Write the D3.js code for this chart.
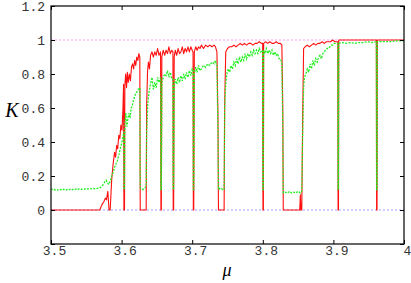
<!DOCTYPE html>
<html>
<head>
<meta charset="utf-8">
<style>
body { margin: 0; background: #fff; }
svg { display: block; background: #fff; }
.tick text { font-family: "Liberation Mono", monospace; font-size: 13px; fill: #333; }
</style>
</head>
<body>
<div id="chart"></div>
<script src="https://cdn.jsdelivr.net/npm/d3@7/dist/d3.min.js"></script>
<script>
// [mu, K] pairs
var redPts = [
  [3.500,0],[3.569,0],[3.572,0.03],[3.575,0.05],[3.577,0.07],[3.5785,0.06],[3.5805,0.11],[3.5822,0],[3.5838,0],
  [3.586,0.18],[3.588,0.27],[3.590,0.34],[3.5915,0.31],[3.593,0.38],[3.5945,0.36],[3.596,0.44],[3.5975,0.42],
  [3.599,0.5],[3.6005,0.47],[3.6018,0.58],[3.6028,0.74],[3.6033,0],[3.6041,0],[3.6046,0.73],[3.6058,0.8],
  [3.607,0.72],[3.6082,0.81],[3.6094,0.75],[3.611,0.8],[3.6125,0.76],[3.614,0.84],[3.6155,0.86],[3.617,0.83],
  [3.6185,0.88],[3.620,0.85],[3.6215,0.9],[3.623,0.88],[3.6245,0.92],[3.6258,0.9],[3.6264,0],[3.6348,0],
  [3.6355,0.62],[3.6368,0.82],[3.638,0.87],[3.6395,0.83],[3.641,0.91],[3.643,0.93],[3.645,0.9],[3.647,0.93],
  [3.649,0.91],[3.651,0.95],[3.653,0.91],[3.6552,0.93],[3.6557,0],[3.6563,0],[3.657,0.9],[3.659,0.94],
  [3.661,0.91],[3.663,0.94],[3.665,0.92],[3.667,0.96],[3.669,0.92],[3.671,0.94],[3.6727,0.93],[3.6731,0],
  [3.6737,0],[3.6745,0.9],[3.676,0.94],[3.678,0.91],[3.680,0.95],[3.682,0.92],[3.684,0.93],[3.686,0.96],
  [3.688,0.92],[3.690,0.95],[3.692,0.93],[3.694,0.96],[3.696,0.93],[3.698,0.96],[3.700,0.94],[3.7012,0.93],
  [3.7016,0],[3.7022,0],[3.703,0.93],[3.705,0.96],[3.707,0.94],[3.709,0.96],[3.711,0.95],[3.713,0.97],
  [3.716,0.95],[3.719,0.97],[3.722,0.96],[3.725,0.97],[3.728,0.96],[3.731,0.97],[3.733,0.96],[3.735,0.93],
  [3.7365,0.55],[3.7372,0],[3.7452,0],[3.746,0.62],[3.7475,0.93],[3.750,0.95],[3.753,0.96],[3.756,0.96],
  [3.759,0.97],[3.762,0.96],[3.765,0.97],[3.768,0.98],[3.771,0.97],[3.774,0.98],[3.777,0.97],[3.780,0.98],
  [3.783,0.98],[3.786,0.97],[3.789,0.98],[3.792,0.98],[3.795,0.99],[3.798,0.98],[3.7998,0.98],[3.8002,0],
  [3.8008,0],[3.8012,0.98],[3.804,0.99],[3.807,0.98],[3.810,0.99],[3.813,0.98],[3.816,0.98],[3.819,0.99],
  [3.822,0.98],[3.825,0.98],[3.827,0.97],[3.8283,0.6],[3.829,0],[3.8523,0],[3.8532,0.09],[3.854,0],[3.8552,0],
  [3.8565,0.55],[3.8578,0.95],[3.860,0.96],[3.863,0.97],[3.866,0.96],[3.869,0.97],[3.872,0.98],[3.875,0.97],
  [3.878,0.98],[3.881,0.98],[3.884,0.99],[3.887,0.98],[3.890,0.99],[3.893,0.99],[3.896,0.99],[3.899,1.0],
  [3.902,0.99],[3.9062,0.99],[3.9066,0],[3.9072,0],[3.9076,1.0],[3.92,1.0],[3.94,1.0],[3.9608,1.0],
  [3.9612,0],[3.9618,0],[3.9622,1.0],[3.98,1.0],[4.0,1.0]
];

var greenPts = [
  [3.500,0.125],[3.502,0.12],[3.504,0.123],[3.506,0.118],[3.508,0.121],[3.510,0.117],[3.512,0.122],[3.514,0.119],
  [3.516,0.124],[3.518,0.12],[3.520,0.123],[3.522,0.118],[3.524,0.122],[3.526,0.12],[3.528,0.124],[3.530,0.119],
  [3.532,0.123],[3.534,0.12],[3.536,0.125],[3.538,0.121],[3.540,0.124],[3.542,0.12],[3.544,0.123],[3.546,0.121],
  [3.548,0.124],[3.550,0.122],[3.552,0.125],[3.554,0.123],[3.556,0.126],[3.558,0.124],[3.560,0.127],[3.562,0.125],
  [3.564,0.128],[3.566,0.127],[3.568,0.13],[3.570,0.132],[3.572,0.14],[3.574,0.15],[3.576,0.165],[3.578,0.175],
  [3.580,0.16],[3.582,0.15],[3.584,0.17],[3.586,0.2],[3.588,0.22],[3.590,0.25],[3.592,0.27],[3.594,0.29],
  [3.596,0.32],[3.598,0.36],[3.600,0.39],[3.602,0.43],[3.6032,0.46],[3.6035,0.12],[3.6041,0.12],[3.6046,0.5],
  [3.606,0.57],[3.6075,0.49],[3.609,0.54],[3.6105,0.57],[3.612,0.54],[3.6135,0.6],[3.615,0.61],[3.6165,0.64],
  [3.618,0.66],[3.6195,0.68],[3.621,0.69],[3.6225,0.7],[3.624,0.71],[3.6258,0.72],[3.6264,0.13],[3.630,0.12],
  [3.633,0.13],[3.6348,0.14],[3.6355,0.45],[3.637,0.62],[3.639,0.7],[3.641,0.74],[3.643,0.78],[3.645,0.71],
  [3.647,0.75],[3.649,0.72],[3.651,0.78],[3.653,0.75],[3.6552,0.78],[3.6557,0.12],[3.6563,0.12],[3.657,0.75],
  [3.659,0.78],[3.661,0.8],[3.663,0.79],[3.665,0.82],[3.667,0.78],[3.669,0.81],[3.671,0.77],[3.6727,0.77],
  [3.6731,0.12],[3.6737,0.12],[3.6745,0.73],[3.676,0.77],[3.678,0.74],[3.680,0.78],[3.682,0.75],[3.684,0.79],
  [3.686,0.76],[3.688,0.8],[3.690,0.77],[3.692,0.81],[3.694,0.78],[3.696,0.82],[3.698,0.79],[3.700,0.83],
  [3.7012,0.82],[3.7016,0.12],[3.7022,0.12],[3.703,0.8],[3.705,0.84],[3.707,0.81],[3.709,0.85],[3.711,0.82],
  [3.713,0.83],[3.716,0.85],[3.719,0.84],[3.722,0.86],[3.725,0.85],[3.728,0.87],[3.731,0.86],[3.733,0.88],
  [3.735,0.85],[3.7365,0.45],[3.7372,0.12],[3.740,0.13],[3.743,0.12],[3.7452,0.12],[3.746,0.6],[3.7475,0.74],
  [3.749,0.8],[3.751,0.83],[3.753,0.81],[3.755,0.85],[3.757,0.83],[3.759,0.87],[3.761,0.85],[3.763,0.89],
  [3.765,0.86],[3.767,0.9],[3.769,0.87],[3.771,0.9],[3.773,0.88],[3.775,0.92],[3.777,0.89],[3.779,0.92],
  [3.781,0.9],[3.783,0.93],[3.785,0.91],[3.787,0.94],[3.789,0.92],[3.791,0.94],[3.793,0.92],[3.795,0.95],
  [3.797,0.93],[3.7998,0.94],[3.8002,0.12],[3.8008,0.12],[3.8012,0.94],[3.803,0.92],[3.805,0.95],[3.807,0.92],
  [3.809,0.94],[3.811,0.92],[3.813,0.94],[3.815,0.91],[3.817,0.93],[3.819,0.91],[3.821,0.92],[3.823,0.89],
  [3.825,0.89],[3.827,0.86],[3.8283,0.5],[3.829,0.1],[3.832,0.105],[3.835,0.1],[3.838,0.11],[3.841,0.1],
  [3.844,0.105],[3.847,0.1],[3.850,0.11],[3.853,0.1],[3.8552,0.11],[3.8565,0.45],[3.8578,0.72],[3.859,0.78],
  [3.861,0.8],[3.863,0.83],[3.865,0.81],[3.867,0.86],[3.869,0.83],[3.871,0.88],[3.873,0.85],[3.875,0.89],
  [3.877,0.87],[3.879,0.9],[3.881,0.91],[3.883,0.89],[3.885,0.92],[3.887,0.93],[3.889,0.94],[3.891,0.95],
  [3.893,0.95],[3.895,0.96],[3.897,0.97],[3.899,0.97],[3.901,0.98],[3.903,0.98],[3.9062,0.98],[3.9066,0.12],
  [3.9072,0.12],[3.9076,0.98],[3.912,0.985],[3.918,0.98],[3.924,0.985],[3.930,0.98],[3.936,0.985],[3.942,0.985],
  [3.948,0.99],[3.954,0.985],[3.9608,0.99],[3.9612,0.12],[3.9618,0.12],[3.9622,0.99],[3.97,0.99],[3.98,0.99],
  [3.99,0.995],[4.0,0.995]
];

var refLevels = [1, 0];
var xTicks = [3.5, 3.6, 3.7, 3.8, 3.9, 4.0];
var yTicks = [-0.2, 0, 0.2, 0.4, 0.6, 0.8, 1.0, 1.2];

var W = 411, H = 283;
var mLeft = 51, mRight = 404, mTop = 6, mBottom = 244;

var svg = d3.select('#chart').append('svg')
    .attr('width', W).attr('height', H);

var x = d3.scaleLinear().domain([3.5, 4]).range([mLeft, mRight]);
var y = d3.scaleLinear().domain([-0.2, 1.2]).range([mBottom, mTop]);

var fmt = function (d) { return d < -0.1 ? '' : String(+d.toFixed(1)); };

// reference lines y=1 (pink) and y=0 (blue)
svg.selectAll('line.ref').data(refLevels).enter().append('line')
    .attr('class', 'ref')
    .attr('x1', x(3.5)).attr('x2', x(4))
    .attr('y1', function (d) { return y(d); })
    .attr('y2', function (d) { return y(d); })
    .attr('stroke', function (d, i) { return i == 0 ? '#ff99ff' : '#a0a0ff'; })
    .attr('stroke-width', 1)
    .attr('stroke-dasharray', '2,2');

var line = d3.line()
    .x(function (d) { return x(d[0]); })
    .y(function (d) { return y(d[1]); });

svg.append('path').datum(redPts)
    .attr('d', line)
    .attr('fill', 'none')
    .attr('stroke', '#ff1010')
    .attr('stroke-width', 1.1)
    .attr('stroke-linejoin', 'round');

svg.append('path').datum(greenPts)
    .attr('d', line)
    .attr('fill', 'none')
    .attr('stroke', '#22ee22')
    .attr('stroke-width', 1.3)
    .attr('stroke-dasharray', '2,1.3');

// axes: ticks inward on all sides
svg.append('g').attr('transform', 'translate(0,' + mBottom + ')')
    .call(d3.axisBottom(x).tickValues(xTicks).tickFormat(fmt).tickSize(-4).tickPadding(2))
    .call(function (g) { g.selectAll('text').attr('dx', 3); });
svg.append('g').attr('transform', 'translate(0,' + mTop + ')')
    .call(d3.axisTop(x).tickValues(xTicks).tickFormat('').tickSize(-4));
svg.append('g').attr('transform', 'translate(' + mLeft + ',0)')
    .call(d3.axisLeft(y).tickValues(yTicks).tickFormat(fmt).tickSize(-4).tickPadding(6));
svg.append('g').attr('transform', 'translate(' + mRight + ',0)')
    .call(d3.axisRight(y).tickValues(yTicks).tickFormat('').tickSize(-4));

svg.selectAll('.domain').remove();
svg.selectAll('.tick line').attr('stroke', '#000');

svg.append('rect')
    .attr('x', mLeft).attr('y', mTop)
    .attr('width', mRight - mLeft).attr('height', mBottom - mTop)
    .attr('fill', 'none').attr('stroke', '#000').attr('stroke-width', 1.2);

svg.append('text')
    .attr('x', 12).attr('y', 112)
    .attr('text-anchor', 'middle').attr('dominant-baseline', 'middle')
    .style('font-family', '"Liberation Serif", serif').style('font-style', 'italic')
    .style('font-size', '20px')
    .text('K');

svg.append('text')
    .attr('x', 227).attr('y', 276)
    .attr('text-anchor', 'middle')
    .style('font-family', '"Liberation Serif", serif').style('font-style', 'italic')
    .style('font-size', '18px')
    .text('μ');
</script>
</body>
</html>
